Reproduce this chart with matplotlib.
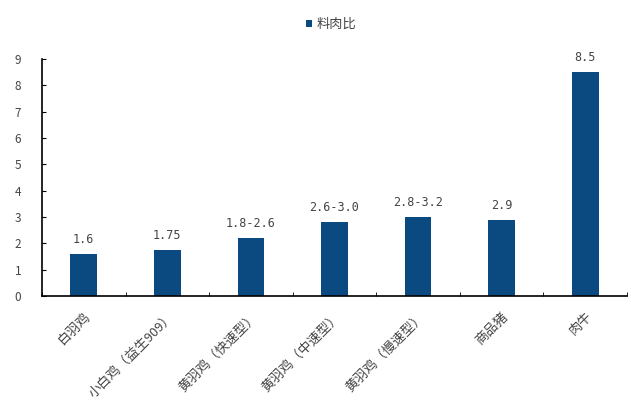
import matplotlib
matplotlib.use("Agg")
import matplotlib.pyplot as plt
import numpy as np

plt.rcParams['font.family'] = ['Noto Sans CJK SC', 'DejaVu Sans']

categories = ['白羽鸡', '小白鸡（益生909）', '黄羽鸡（快速型）', '黄羽鸡（中速型）',
              '黄羽鸡（慢速型）', '商品猪', '肉牛']
values = [1.6, 1.75, 2.2, 2.8, 3.0, 2.9, 8.5]
labels = ['1.6', '1.75', '1.8-2.6', '2.6-3.0', '2.8-3.2', '2.9', '8.5']
series_name = '料肉比'

bar_color = '#0b4a80'
text_color = '#444444'

fig = plt.figure(figsize=(6.31, 4.07), dpi=100)
ax = fig.add_axes([0.0666, 0.2727, 0.9271, 0.5823])

x = np.arange(len(categories))
bars = ax.bar(x, values, width=0.32, color=bar_color, label=series_name, zorder=2)

for xi, v, lab in zip(x, values, labels):
    ax.text(xi, v + 0.3, lab, ha='center', va='bottom', fontsize=8.5,
            color=text_color, family=['DejaVu Sans Mono', 'DejaVu Sans'])

ax.set_xlim(-0.5, len(categories) - 0.5)
ax.set_ylim(0, 9)
ax.set_yticks(range(0, 10))
ax.tick_params(axis='y', labelsize=8.5, labelcolor=text_color, color='black',
               direction='in', length=3, pad=15)
ax.set_xticks(x)
ax.set_xticklabels(categories, rotation=45, ha='right', rotation_mode='anchor',
                   fontsize=9.5, color=text_color)
ax.tick_params(axis='x', which='major', length=0, pad=10)
ax.set_xticks(np.arange(-0.5, len(categories), 1.0), minor=True)
ax.tick_params(axis='x', which='minor', length=3, direction='in', color='black')

for s in ['top', 'right']:
    ax.spines[s].set_visible(False)
ax.spines['left'].set_linewidth(1.2)
ax.spines['bottom'].set_linewidth(1.2)

fig.legend(loc='upper center', bbox_to_anchor=(0.525, 0.985), frameon=False,
           fontsize=9.5, handlelength=0.45, handleheight=0.45, handletextpad=0.3,
           labelcolor=text_color)

fig.savefig('out.png', dpi=100)
